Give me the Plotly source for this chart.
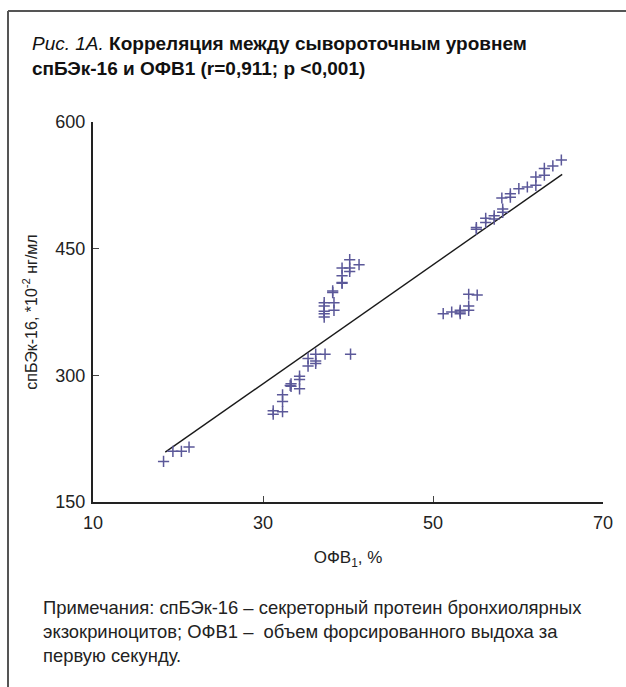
import plotly.graph_objects as go

# Data
fev1 = [18.3, 19.4, 20.4, 21.3,
        31.2, 31.2, 32.3, 32.3, 32.3,
        33.2, 33.3, 33.3, 34.3, 34.3, 34.3,
        35.3, 35.3, 36.2, 36.2, 36.2, 37.3, 40.3,
        37.2, 37.2, 37.2, 37.2, 37.2, 38.35, 38.35, 38.2, 38.2,
        39.3, 39.3, 39.3, 39.3, 40.2, 40.2, 40.2, 41.3,
        51.2, 52.2, 53.2, 53.2, 53.2, 54.2, 54.2, 54.2, 55.2,
        55.1, 55.1, 56.2, 56.2, 57.2, 57.2, 58.1, 58.2, 58.2,
        59.1, 59.1, 60.1, 61.1, 62.1, 62.1, 63.1, 63.1, 64.1, 65.1]
cc16 = [198, 210, 210, 215,
        258, 254, 257, 269, 277,
        288, 287, 290, 284, 299, 295,
        320, 311, 325, 317, 314, 325, 325,
        386, 382, 376, 373, 369, 386, 377, 400, 398,
        427, 418, 410, 409, 437, 427, 423, 431,
        373, 375, 377, 375, 373, 382, 377, 396, 395,
        475, 473, 486, 481, 489, 485, 510, 497, 493,
        515, 511, 521, 523, 535, 525, 545, 537, 548, 555]

fit_x = [18.5, 65.2]
fit_y = [209, 538]

x_ticks = [10, 30, 50, 70]
y_ticks = [150, 300, 450, 600]

W, H = 626, 687
L, R, T, B = 93, 603, 122, 502  # plot area in pixels

def px(x):
    return (x - L) / (R - L)

def py(y):
    return (B - y) / (B - T)

fig = go.Figure()
fig.add_trace(go.Scatter(x=fit_x, y=fit_y, mode="lines",
                         line=dict(color="#1a1a1a", width=1.4),
                         hoverinfo="skip", showlegend=False))
fig.add_trace(go.Scatter(x=fev1, y=cc16, mode="markers",
                         marker=dict(symbol="cross-thin", size=8,
                                     line=dict(color="#5b5899", width=1.5)),
                         showlegend=False))

font_family = "Liberation Sans, Arial, sans-serif"

fig.update_layout(
    width=W, height=H,
    margin=dict(l=L, r=W - R, t=T, b=H - B, pad=0),
    paper_bgcolor="white", plot_bgcolor="white",
    font=dict(family=font_family, size=18, color="#222"),
    xaxis=dict(range=[10, 70], tickvals=x_ticks, ticktext=[str(v) for v in x_ticks],
               showline=True, linewidth=2, linecolor="#222", mirror=False,
               ticks="inside", ticklen=6, tickwidth=1, tickcolor="#444",
               showgrid=False, zeroline=False, ticklabelstandoff=3,
               tickfont=dict(size=18, color="#222"),
               title=dict(text="ОФВ<sub>1</sub>, %", font=dict(size=17, color="#222"), standoff=20)),
    yaxis=dict(range=[150, 600], tickvals=y_ticks, ticktext=[str(v) for v in y_ticks],
               showline=True, linewidth=2, linecolor="#222",
               ticks="inside", ticklen=6, tickwidth=1, tickcolor="#444",
               showgrid=False, zeroline=False, ticklabelstandoff=2,
               tickfont=dict(size=18, color="#222"),
               title=dict(text="спБЭк-16, *10<sup>-2</sup> нг/мл", font=dict(size=16, color="#222"), standoff=14)),
)

# Frame lines (top and left)
fig.add_shape(type="line", xref="paper", yref="paper",
              x0=px(8), x1=px(W + 5), y0=py(11), y1=py(11),
              line=dict(color="#555", width=2))
fig.add_shape(type="line", xref="paper", yref="paper",
              x0=px(8), x1=px(8), y0=py(11), y1=py(H + 5),
              line=dict(color="#555", width=2))

# Title
fig.add_annotation(xref="paper", yref="paper", x=px(30), y=py(31),
                   xanchor="left", yanchor="top", align="left", showarrow=False,
                   text="<i>Рис. 1А.</i> <b>Корреляция между сывороточным уровнем</b><br>"
                        "<b>спБЭк-16 и ОФВ1 (r=0,911; p &lt;0,001)</b>",
                   font=dict(size=19, color="#111", family=font_family))

# Notes
fig.add_annotation(xref="paper", yref="paper", x=px(41), y=py(595),
                   xanchor="left", yanchor="top", align="left", showarrow=False,
                   text="Примечания: спБЭк-16 – секреторный протеин бронхиолярных<br>"
                        "экзокриноцитов; ОФВ1 –  объем форсированного выдоха за<br>"
                        "первую секунду.",
                   font=dict(size=18.4, color="#222", family=font_family))

fig.write_html("out.html")
